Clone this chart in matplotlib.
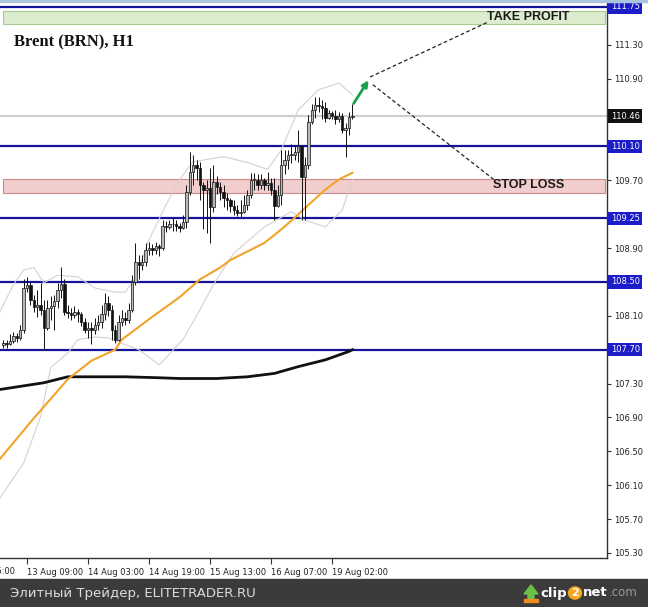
import matplotlib.pyplot as plt
from matplotlib.patches import Rectangle, Polygon, Circle, FancyArrowPatch
from matplotlib.transforms import blended_transform_factory

# Brent H1 candles (bar 0 = first visible bar), prices
first_open = 107.76
closes = [107.78, 107.77, 107.80, 107.86, 107.84, 107.93, 108.43, 108.47, 108.29, 108.21,
          108.23, 108.17, 107.96, 108.19, 108.22, 108.27, 108.41, 108.48, 108.15, 108.13,
          108.11, 108.15, 108.12, 108.03, 107.93, 107.96, 107.93, 107.99, 108.03, 108.12,
          108.25, 108.17, 107.93, 107.82, 108.03, 108.08, 108.05, 108.17, 108.50, 108.74,
          108.70, 108.74, 108.88, 108.90, 108.88, 108.92, 108.90, 109.16, 109.15, 109.18,
          109.19, 109.16, 109.14, 109.21, 109.56, 109.80, 109.88, 109.85, 109.65, 109.59,
          109.61, 109.38, 109.68, 109.62, 109.56, 109.49, 109.47, 109.40, 109.35, 109.31,
          109.33, 109.41, 109.53, 109.71, 109.71, 109.64, 109.70, 109.64, 109.67, 109.59,
          109.40, 109.53, 109.88, 109.94, 110.00, 110.00, 110.04, 110.10, 109.74, 109.88,
          110.39, 110.53, 110.59, 110.58, 110.56, 110.44, 110.49, 110.46, 110.42, 110.46,
          110.30, 110.32, 110.45, 110.46]
highs = [107.82, 107.82, 107.88, 107.91, 107.90, 107.99, 108.53, 108.56, 108.50, 108.35,
         108.41, 108.49, 108.29, 108.29, 108.33, 108.35, 108.49, 108.68, 108.53, 108.23,
         108.19, 108.22, 108.18, 108.15, 108.08, 108.03, 108.03, 108.08, 108.11, 108.23,
         108.37, 108.34, 108.23, 107.99, 108.11, 108.17, 108.15, 108.25, 108.58, 108.96,
         108.82, 108.82, 108.96, 108.97, 108.95, 108.97, 108.95, 109.23, 109.22, 109.23,
         109.25, 109.23, 109.20, 109.29, 109.65, 110.03, 110.00, 109.94, 109.92, 109.68,
         109.71, 109.85, 109.88, 109.75, 109.68, 109.64, 109.55, 109.49, 109.47, 109.41,
         109.47, 109.53, 109.59, 109.79, 109.79, 109.77, 109.77, 109.73, 109.80, 109.73,
         109.73, 109.65, 110.06, 110.06, 110.06, 110.13, 110.12, 110.30, 110.09, 109.97,
         110.47, 110.60, 110.68, 110.68, 110.65, 110.62, 110.53, 110.52, 110.53, 110.51,
         110.49, 110.38, 110.51, 110.60]
lows = [107.72, 107.72, 107.76, 107.78, 107.79, 107.82, 107.90, 108.38, 108.23, 108.15,
        108.09, 108.11, 107.70, 107.93, 108.05, 107.93, 108.19, 108.31, 108.11, 108.08,
        108.05, 108.08, 108.03, 107.98, 107.90, 107.84, 107.77, 107.89, 107.93, 107.96,
        108.05, 108.10, 107.82, 107.78, 107.80, 107.98, 107.99, 108.02, 108.15, 108.47,
        108.53, 108.64, 108.69, 108.82, 108.82, 108.83, 108.81, 108.88, 109.09, 109.12,
        109.10, 109.10, 109.09, 109.12, 109.14, 109.53, 109.65, 109.71, 109.47, 109.12,
        109.08, 108.96, 109.33, 109.54, 109.47, 109.39, 109.35, 109.33, 109.29, 109.28,
        109.27, 109.31, 109.35, 109.49, 109.59, 109.59, 109.60, 109.59, 109.59, 109.53,
        109.23, 109.38, 109.41, 109.77, 109.83, 109.91, 109.94, 109.92, 109.23, 109.23,
        109.83, 110.36, 110.44, 110.51, 110.42, 110.39, 110.42, 110.42, 110.36, 110.39,
        110.26, 109.98, 110.24, 110.42]

# indicator lines, read as (bar, price) points
ma_fast_bars = [-1, 9, 19, 26, 33, 35, 40, 44, 52, 58, 64, 67, 73, 77, 82, 86, 90, 95, 99, 103]
ma_fast = [106.41, 106.89, 107.35, 107.57, 107.70, 107.82, 107.97, 108.09, 108.32, 108.53,
           108.67, 108.76, 108.88, 108.96, 109.12, 109.26, 109.41, 109.59, 109.71, 109.79]
ma_slow_bars = [-1, 12, 19, 36, 45, 52, 63, 72, 80, 87, 95, 102, 103]
ma_slow = [107.23, 107.31, 107.38, 107.38, 107.37, 107.36, 107.36, 107.38, 107.42, 107.50,
           107.58, 107.68, 107.70]
bb_up_bars = [-1, 3, 6, 9, 12, 16, 22, 27, 33, 36, 39, 43, 48, 52, 56, 65, 72, 78, 82, 87, 93, 99, 103]
bb_up = [108.15, 108.47, 108.64, 108.67, 108.49, 108.58, 108.56, 108.43, 108.38, 108.38, 108.55,
         109.00, 109.41, 109.71, 109.92, 109.98, 109.91, 109.83, 110.06, 110.53, 110.77, 110.85, 110.71]
bb_lo_bars = [-1, 6, 11, 14, 19, 22, 27, 31, 36, 40, 46, 53, 58, 62, 68, 77, 85, 89, 95, 100, 103]
bb_lo = [105.95, 106.36, 106.91, 107.49, 107.66, 107.82, 107.85, 107.84, 107.76, 107.70, 107.52,
         107.82, 108.17, 108.47, 108.84, 109.15, 109.33, 109.23, 109.15, 109.35, 109.71]

levels = [111.75, 110.10, 109.25, 108.50, 107.70]
last_price = 110.46
take_profit = (111.55, 111.70)
stop_loss = (109.55, 109.72)

y_ticks = [105.30, 105.70, 106.10, 106.50, 106.90, 107.30, 107.70, 108.10, 108.50,
           108.90, 109.30, 109.70, 110.10, 110.50, 110.90, 111.30, 111.70]
x_tick_bars = [-13, 7, 25, 43, 61, 79, 97]
x_tick_labels = ['12 Aug 15:00', '13 Aug 09:00', '14 Aug 03:00', '14 Aug 19:00',
                 '15 Aug 13:00', '16 Aug 07:00', '19 Aug 02:00']

W, H = 648, 607
fig = plt.figure(figsize=(W / 100, H / 100), dpi=100)
ax = fig.add_axes([0, 49 / H, 607 / W, 558 / H])

# horizontal zones and levels
ax.axhspan(*take_profit, xmin=0.005, xmax=0.997, facecolor='#dceccf', edgecolor='#a9c98f', lw=0.8, zorder=1)
ax.axhspan(*stop_loss, xmin=0.005, xmax=0.997, facecolor='#f2cdcd', edgecolor='#c98c8c', lw=0.8, zorder=1)
ax.axhline(last_price, color='#cfcfcf', lw=1.6, zorder=1)
for lv in levels:
    ax.axhline(lv, color='#14149a', lw=1.6, zorder=2)

# indicators
ax.plot(bb_up_bars, bb_up, color='#d2d2d2', lw=0.8, zorder=2)
ax.plot(bb_lo_bars, bb_lo, color='#d2d2d2', lw=0.8, zorder=2)
ax.plot(ma_slow_bars, ma_slow, color='#111111', lw=2.0, zorder=3)
ax.plot(ma_fast_bars, ma_fast, color='#f0a428', lw=1.5, zorder=3)

# candles
opens = [first_open] + closes[:-1]
for i, (o, c, h, l) in enumerate(zip(opens, closes, highs, lows)):
    top, bot = max(o, c), min(o, c)
    ax.vlines(i, min(l, bot), max(h, top), color='#111111', lw=0.7, zorder=4)
    face = '#b8b8b8' if c >= o else '#111111'
    ax.add_patch(Rectangle((i - 0.36, bot), 0.72, max(top - bot, 0.008),
                           facecolor=face, edgecolor='#111111', lw=0.5, zorder=5))

# forecast arrow and dashed targets
ax.add_patch(FancyArrowPatch((102.9, 110.58), (108.2, 110.91), arrowstyle='-|>', mutation_scale=9,
                             color='#1aa04a', lw=2, zorder=6))
ax.plot([108.2, 143.0], [110.92, 111.57], ls=(0, (3, 2)), color='#222222', lw=0.9, zorder=6)
ax.plot([109.0, 144.7], [110.83, 109.71], ls=(0, (3, 2)), color='#222222', lw=0.9, zorder=6)
ax.text(142.7, 111.625, 'TAKE PROFIT', fontsize=9, fontweight='bold', family='Liberation Sans',
        color='#1a1a1a', va='center', ha='left', zorder=7)
ax.text(144.4, 109.64, 'STOP LOSS', fontsize=9, fontweight='bold', family='Liberation Sans',
        color='#1a1a1a', va='center', ha='left', zorder=7)

# axes styling
for s in ['left', 'top']:
    ax.spines[s].set_visible(False)
for s in ['right', 'bottom']:
    ax.spines[s].set_color('#333333')
    ax.spines[s].set_linewidth(1)
ax.yaxis.tick_right()
covered = [111.70, 110.10, 110.50, 109.30, 108.50, 107.70]  # hidden under the level boxes
ax.set_yticks(y_ticks)
ax.set_yticklabels(['' if any(abs(v - c) < 1e-6 for c in covered) else f'{v:.2f}' for v in y_ticks])
ax.set_xticks(x_tick_bars[1:])
ax.set_xticklabels(x_tick_labels[1:], ha='left')
ax.tick_params(axis='y', length=3, width=0.8, color='#333333', labelsize=6, labelcolor='#222222', pad=2)
ax.tick_params(axis='x', length=4, width=0.8, color='#333333', labelsize=6, labelcolor='#222222', pad=3)
ax.set_xlim(-0.97, 178.1)
ax.set_ylim(105.24, 111.83)

# first date label, cut by the left edge as in the screenshot
xtrans = blended_transform_factory(ax.transData, ax.transAxes)
ax.text(x_tick_bars[0], -0.0165, x_tick_labels[0], transform=xtrans, fontsize=6, color='#222222',
        ha='left', va='top', clip_on=False)

trans = blended_transform_factory(ax.transAxes, ax.transData)
for lv in levels:
    ax.text(1.006, lv, f'{lv:.2f}', transform=trans, fontsize=6, color='white', va='center', ha='left',
            clip_on=False, zorder=20, bbox=dict(facecolor='#1c1cc8', edgecolor='none', pad=1.6))
ax.text(1.006, last_price, f'{last_price:.2f}', transform=trans, fontsize=6, color='white', va='center',
        ha='left', clip_on=False, zorder=20, bbox=dict(facecolor='#111111', edgecolor='none', pad=1.6))

fig.text(14 / W, 1 - 42 / H, 'Brent (BRN), H1', family='Liberation Serif', fontweight='bold',
         fontsize=12, color='#111111', va='center', ha='left')

# window border and footer
fig.add_artist(Rectangle((0, 1 - 1.5 / H), 1, 1.5 / H, transform=fig.transFigure, color='#a9c6de'))
fig.add_artist(Rectangle((0, 0), 1, 28 / H, transform=fig.transFigure, color='#3b3b3b'))
fig.text(10 / W, 14 / H, 'Элитный Трейдер, ELITETRADER.RU', fontsize=9.5, color='#dcdcdc',
         va='center', ha='left')
fig.add_artist(Polygon([(524 / W, 13 / H), (531 / W, 22 / H), (538 / W, 13 / H), (534 / W, 13 / H),
                        (534 / W, 8 / H), (528 / W, 8 / H), (528 / W, 13 / H)],
                       closed=True, transform=fig.transFigure, color='#6cc04a'))
fig.add_artist(Rectangle((524 / W, 5 / H), 14 / W, 3 / H, transform=fig.transFigure, color='#f08a24'))
fig.text(540 / W, 14 / H, 'clip', fontsize=9.5, fontweight='bold', color='white', va='center', ha='left')
fig.add_artist(Circle((575 / W, 14 / H), 6.5 / W, transform=fig.transFigure, color='#f5a623'))
fig.text(575 / W, 14 / H, '2', fontsize=8, fontweight='bold', color='white', va='center', ha='center')
fig.text(583 / W, 14 / H, 'net', fontsize=9.5, fontweight='bold', color='white', va='center', ha='left')
fig.text(609 / W, 14 / H, '.com', fontsize=8.5, color='#9a9a9a', va='center', ha='left')

fig.savefig('out.png', dpi=100)
